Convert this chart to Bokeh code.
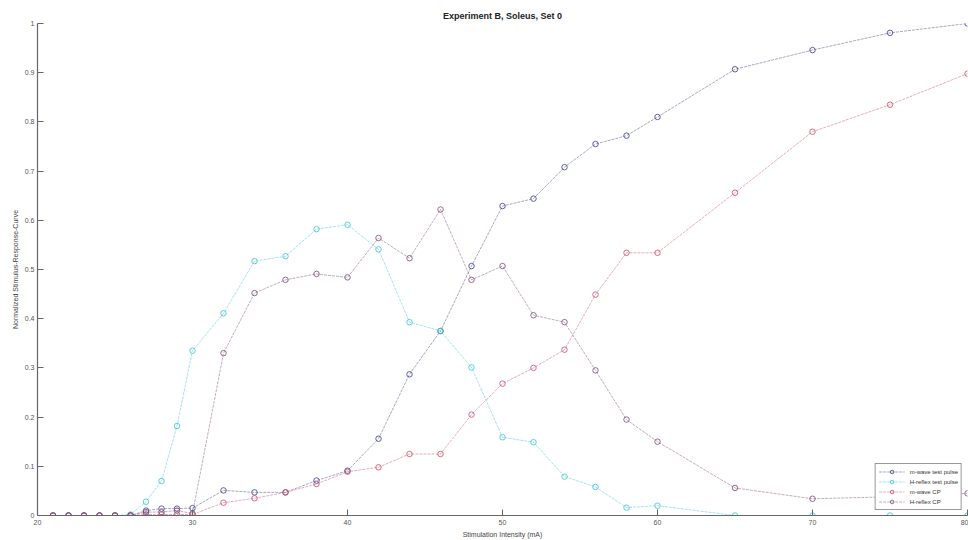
from bokeh.plotting import figure
from bokeh.models import Range1d, FixedTicker, Legend
from bokeh.embed import file_html
from bokeh.resources import INLINE

# ---- data ----
intensity = [21, 22, 23, 24, 25, 26, 27, 28, 29, 30, 32, 34, 36, 38, 40, 42, 44, 46,
             48, 50, 52, 54, 56, 58, 60, 65, 70, 75, 80]
m_wave_test = [0, 0, 0, 0, 0, 0, 0.010, 0.014, 0.014, 0.015, 0.051, 0.047, 0.047, 0.071,
               0.091, 0.156, 0.287, 0.375, 0.507, 0.629, 0.644, 0.708, 0.755, 0.772,
               0.810, 0.907, 0.946, 0.981, 1.0]
h_reflex_test = [0, 0, 0, 0, 0, 0.002, 0.028, 0.070, 0.182, 0.335, 0.411, 0.517, 0.527,
                 0.582, 0.591, 0.541, 0.393, 0.375, 0.301, 0.159, 0.149, 0.079, 0.058,
                 0.016, 0.020, 0.0, 0.0, 0.0, 0.0]
m_wave_cp = [0, 0, 0, 0, 0, 0, 0.002, 0.002, 0.002, 0.002, 0.026, 0.035, 0.047, 0.064,
             0.089, 0.098, 0.125, 0.125, 0.205, 0.268, 0.300, 0.337, 0.449, 0.534,
             0.534, 0.656, 0.780, 0.835, 0.898]
h_reflex_cp = [0, 0, 0, 0, 0, 0, 0.007, 0.007, 0.010, 0.004, 0.330, 0.452, 0.479, 0.491,
               0.484, 0.564, 0.523, 0.622, 0.479, 0.507, 0.407, 0.393, 0.295, 0.195,
               0.150, 0.056, 0.034, 0.038, 0.045]

series_names = ["m-wave test pulse", "H-reflex test pulse", "m-wave CP", "H-reflex CP"]
series_values = [m_wave_test, h_reflex_test, m_wave_cp, h_reflex_cp]
series_colors = ["#3c3c8c", "#36c4d0", "#cc4a68", "#7a4870"]

x_ticks = [20, 30, 40, 50, 60, 70, 80]
y_ticks = [0, 0.1, 0.2, 0.3, 0.4, 0.5, 0.6, 0.7, 0.8, 0.9, 1]
y_tick_labels = ["0", "0.1", "0.2", "0.3", "0.4", "0.5", "0.6", "0.7", "0.8", "0.9", "1"]

title_text = "Experiment B, Soleus, Set 0"
x_label = "Stimulation Intensity (mA)"
y_label = "Normalized Stimulus-Response-Curve"

FONT = "Liberation Sans"

p = figure(width=968, height=540, output_backend="svg", toolbar_location=None,
           x_range=Range1d(20, 80), y_range=Range1d(0, 1),
           min_border_left=37, min_border_right=1, min_border_top=23, min_border_bottom=25)
p.title.text = title_text
p.title.align = "center"
p.title.text_font = FONT
p.title.text_font_size = "9px"
p.title.text_font_style = "bold"
p.title.text_color = "#222222"
p.title.standoff = 5

p.outline_line_color = None
p.grid.visible = False
p.background_fill_color = "white"
p.border_fill_color = "white"

for ax in (p.xaxis[0], p.yaxis[0]):
    ax.axis_line_color = "#666666"
    ax.axis_line_width = 1.2
    ax.major_tick_line_color = "#666666"
    ax.major_tick_in = 6
    ax.major_tick_out = 0
    ax.minor_tick_line_color = None
    ax.major_label_text_font = FONT
    ax.major_label_text_font_size = "7px"
    ax.major_label_text_color = "#555555"
    ax.axis_label_text_font = FONT
    ax.axis_label_text_font_size = "7px"
    ax.axis_label_text_font_style = "normal"
    ax.axis_label_text_color = "#444444"

p.xaxis[0].ticker = FixedTicker(ticks=x_ticks)
p.yaxis[0].ticker = FixedTicker(ticks=y_ticks)
p.yaxis[0].major_label_overrides = {t: l for t, l in zip(y_ticks, y_tick_labels)}
p.xaxis[0].axis_label = x_label
p.yaxis[0].axis_label = y_label
p.xaxis[0].major_label_standoff = 4
p.yaxis[0].major_label_standoff = 3
p.xaxis[0].axis_label_standoff = 3
p.yaxis[0].axis_label_standoff = 3

items = []
for name, vals, col in zip(series_names, series_values, series_colors):
    r1 = p.line(intensity, vals, line_color=col, line_width=1, line_alpha=0.45,
                line_dash="3 1")
    r2 = p.scatter(intensity, vals, marker="circle", size=5.5, fill_color=None,
                   line_color=col, line_width=1, line_alpha=0.8)
    items.append((name, [r1, r2]))

legend = Legend(items=items, location="bottom_right")
legend.label_text_font = FONT
legend.label_text_font_size = "6px"
legend.label_text_color = "#333333"
legend.glyph_width = 26
legend.glyph_height = 9
legend.label_height = 9
legend.spacing = 1
legend.padding = 3
legend.margin = 5
legend.border_line_color = "#333333"
legend.border_line_width = 1
legend.background_fill_alpha = 1
p.add_layout(legend)

open("out.html", "w").write(file_html(p, INLINE))
